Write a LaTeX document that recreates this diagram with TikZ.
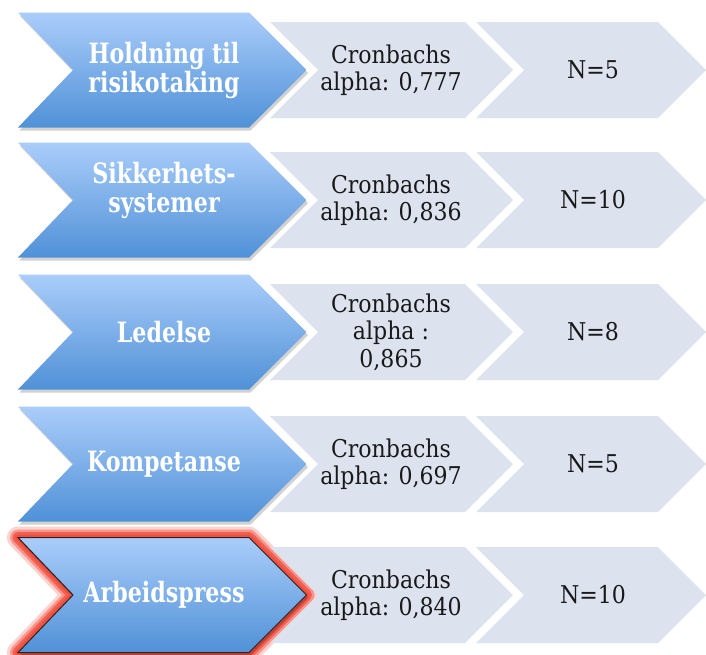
\documentclass[tikz,border=0pt]{standalone}
\usepackage{fontspec}
\setmainfont{DejaVu Serif Condensed}
\newfontfamily\bluefont[FakeStretch=0.88]{DejaVu Serif Condensed}
\definecolor{bluetop}{RGB}{170,205,250}
\definecolor{bluebot}{RGB}{80,145,215}
\definecolor{grayfill}{RGB}{221,227,238}
\definecolor{glowred}{RGB}{240,78,62}
\newcommand\bluechev[2]{%
  \path[#1] (18,#2-57.5) -- (249,#2-57.5) -- (306.5,#2) -- (249,#2+57.5) -- (18,#2+57.5) -- (73,#2) -- cycle;}
\newcommand\grayone[1]{%
  \path[grayshape] (270,#1-48) -- (465,#1-48) -- (513,#1) -- (465,#1+48) -- (270,#1+48) -- (318,#1) -- cycle;}
\newcommand\graytwo[1]{%
  \path[grayshape] (476,#1-48) -- (658,#1-48) -- (706,#1) -- (658,#1+48) -- (476,#1+48) -- (524,#1) -- cycle;}
\newcommand\chevrow[6]{%
  \begin{scope}[shift={(1.5,3)}]\bluechev{fill=black,opacity=0.18}{#2}\end{scope}
  \bluechev{bluefill}{#2}
  \grayone{#2}
  \graytwo{#2}
  \node[bluetext] (#1b) at (164,#2+#6) {#3};
  \node[graytext] (#1c) at (391,#2) {#4};
  \node[graytext] (#1n) at (593,#2) {#5};}
\begin{document}
\begin{tikzpicture}[x=1pt,y=-1pt,
  bluetext/.style={text=white,font=\bluefont\fontsize{28}{29}\selectfont\bfseries,align=center,inner sep=0pt},
  graytext/.style={text=black!90,font=\fontsize{24.5}{27.5}\selectfont,align=center,inner sep=0pt},
  bluefill/.style={top color=bluetop,bottom color=bluebot,draw=none},
  grayshape/.style={fill=grayfill,draw=none}]
\useasboundingbox (0,0) rectangle (706,654);
\fill[white] (0,0) rectangle (706,654);
\chevrow{r1}{70}{Holdning til\\risikotaking}{Cronbachs\\alpha: 0,777}{N=5}{0}
\chevrow{r2}{200}{Sikkerhets-\\systemer}{Cronbachs\\alpha: 0,836}{N=10}{-10}
\chevrow{r3}{332}{Ledelse}{Cronbachs\\alpha :\\0,865}{N=8}{0}
\chevrow{r4}{464}{Kompetanse}{Cronbachs\\alpha: 0,697}{N=5}{0}
% highlighted row
\bluechev{draw=glowred,line width=22pt,opacity=0.25,line join=round}{595}
\bluechev{draw=glowred,line width=16pt,opacity=0.45,line join=round}{595}
\bluechev{draw=glowred,line width=11pt,opacity=0.75,line join=round}{595}
\bluechev{draw=glowred,line width=6pt,opacity=1,line join=round}{595}
\chevrow{r5}{595}{Arbeidspress}{Cronbachs\\alpha: 0,840}{N=10}{0}
\bluechev{draw=black!85,line width=1pt}{595}
\end{tikzpicture}
\end{document}
